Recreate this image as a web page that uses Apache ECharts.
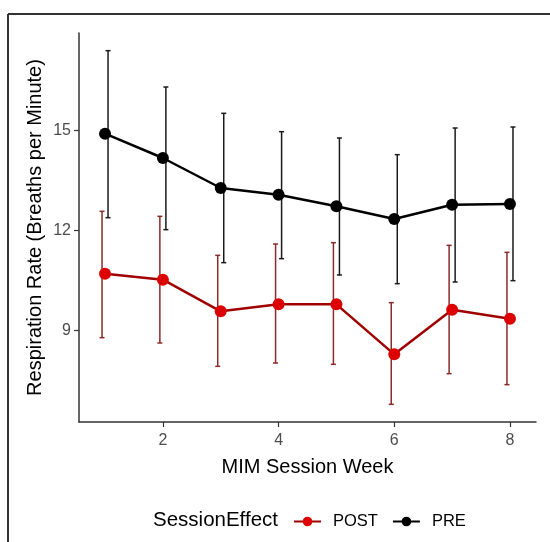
<!DOCTYPE html>
<html>
<head>
<meta charset="utf-8">
<script src="https://cdn.jsdelivr.net/npm/echarts@6/dist/echarts.min.js"></script>
<style>
html,body{margin:0;padding:0;background:#fff;}
#chart{width:550px;height:542px;}
</style>
</head>
<body>
<div id="chart"></div>
<script>
var weeks = [1, 2, 3, 4, 5, 6, 7, 8];
var preMean  = [14.90, 14.17, 13.27, 13.07, 12.72, 12.34, 12.77, 12.79];
var preLower = [12.38, 12.02, 11.03, 11.15, 10.66, 10.40, 10.45, 10.49];
var preUpper = [17.39, 16.30, 15.51, 14.96, 14.77, 14.27, 15.07, 15.10];
var postMean  = [10.70, 10.52, 9.57, 9.78, 9.78, 8.28, 9.62, 9.35];
var postLower = [8.78, 8.62, 7.92, 8.02, 7.98, 6.78, 7.70, 7.37];
var postUpper = [12.57, 12.42, 11.25, 11.59, 11.63, 9.83, 11.55, 11.34];
var xTicks = [2, 4, 6, 8];
var yTicks = [9, 12, 15];

var FONT = '"Liberation Sans", Arial, sans-serif';
var DODGE = 0.052;

function pairs(xs, ys) { return xs.map(function (x, i) { return [x, ys[i]]; }); }
function errData(xs, lo, hi) { return xs.map(function (x, i) { return [x, lo[i], hi[i]]; }); }

function errRender(offset, color) {
  return function (params, api) {
    var x = api.value(0) + offset;
    var lo = api.coord([x, api.value(1)]);
    var hi = api.coord([x, api.value(2)]);
    var cw = 2.5;
    var style = { stroke: color, lineWidth: 1.5 };
    return {
      type: 'group',
      children: [
        { type: 'line', shape: { x1: lo[0], y1: lo[1], x2: hi[0], y2: hi[1] }, style: style },
        { type: 'line', shape: { x1: lo[0] - cw, y1: lo[1], x2: lo[0] + cw, y2: lo[1] }, style: style },
        { type: 'line', shape: { x1: hi[0] - cw, y1: hi[1], x2: hi[0] + cw, y2: hi[1] }, style: style }
      ]
    };
  };
}

var chart = echarts.init(document.getElementById('chart'), null, { renderer: 'canvas' });
chart.setOption({
  animation: false,
  backgroundColor: '#ffffff',
  textStyle: { fontFamily: FONT },
  grid: { left: 79, right: 14, top: 33, bottom: 120, containLabel: false },
  xAxis: {
    type: 'value', min: 0.55, max: 8.45,
    name: 'MIM Session Week', nameLocation: 'middle', nameGap: 35, nameMoveOverlap: false,
    nameTextStyle: { fontSize: 20, color: '#000', fontFamily: FONT, verticalAlign: 'top' },
    axisLine: { show: true, lineStyle: { color: '#333', width: 1.5 } },
    axisTick: { show: true, length: 5, lineStyle: { color: '#333', width: 1.2 }, customValues: xTicks },
    axisLabel: { fontSize: 16, color: '#4d4d4d', margin: 11, fontFamily: FONT, customValues: xTicks },
    splitLine: { show: false }
  },
  yAxis: {
    type: 'value', min: 6.25, max: 17.92,
    name: 'Respiration Rate (Breaths per Minute)', nameLocation: 'middle', nameGap: 34, nameMoveOverlap: false,
    nameTextStyle: { fontSize: 20, color: '#000', fontFamily: FONT },
    axisLine: { show: true, lineStyle: { color: '#333', width: 1.5 } },
    axisTick: { show: true, length: 5, lineStyle: { color: '#333', width: 1.2 }, customValues: yTicks },
    axisLabel: { fontSize: 16, color: '#4d4d4d', margin: 8, fontFamily: FONT, customValues: yTicks },
    splitLine: { show: false }
  },
  legend: {
    left: 293, top: 513, padding: 0,
    itemWidth: 27, itemHeight: 12, itemGap: 14,
    textStyle: { fontSize: 16.5, color: '#000', fontFamily: FONT, padding: [0, 0, 0, 7] },
    data: ['POST', 'PRE']
  },
  graphic: [
    { type: 'line', shape: { x1: 8, y1: 14, x2: 550, y2: 14 }, style: { stroke: '#333', lineWidth: 2 } },
    { type: 'line', shape: { x1: 8, y1: 14, x2: 8, y2: 542 }, style: { stroke: '#333', lineWidth: 2 } },
    { type: 'text', left: 153, top: 510, style: { text: 'SessionEffect', fontSize: 20.5, fill: '#000', font: '20.5px ' + FONT } }
  ],
  series: [
    {
      type: 'custom', name: 'POST_err', renderItem: errRender(-DODGE, '#8b2a2a'),
      data: errData(weeks, postLower, postUpper), encode: { x: 0, y: [1, 2] }, z: 1, silent: true
    },
    {
      type: 'custom', name: 'PRE_err', renderItem: errRender(DODGE, '#1a1a1a'),
      data: errData(weeks, preLower, preUpper), encode: { x: 0, y: [1, 2] }, z: 1, silent: true
    },
    {
      type: 'line', name: 'POST', data: pairs(weeks, postMean),
      symbol: 'circle', symbolSize: 12,
      itemStyle: { color: '#dd0000' },
      lineStyle: { color: '#a00000', width: 2.5 }, z: 3
    },
    {
      type: 'line', name: 'PRE', data: pairs(weeks, preMean),
      symbol: 'circle', symbolSize: 12,
      itemStyle: { color: '#000000' },
      lineStyle: { color: '#000000', width: 2.5 }, z: 4
    }
  ]
});
</script>
</body>
</html>
